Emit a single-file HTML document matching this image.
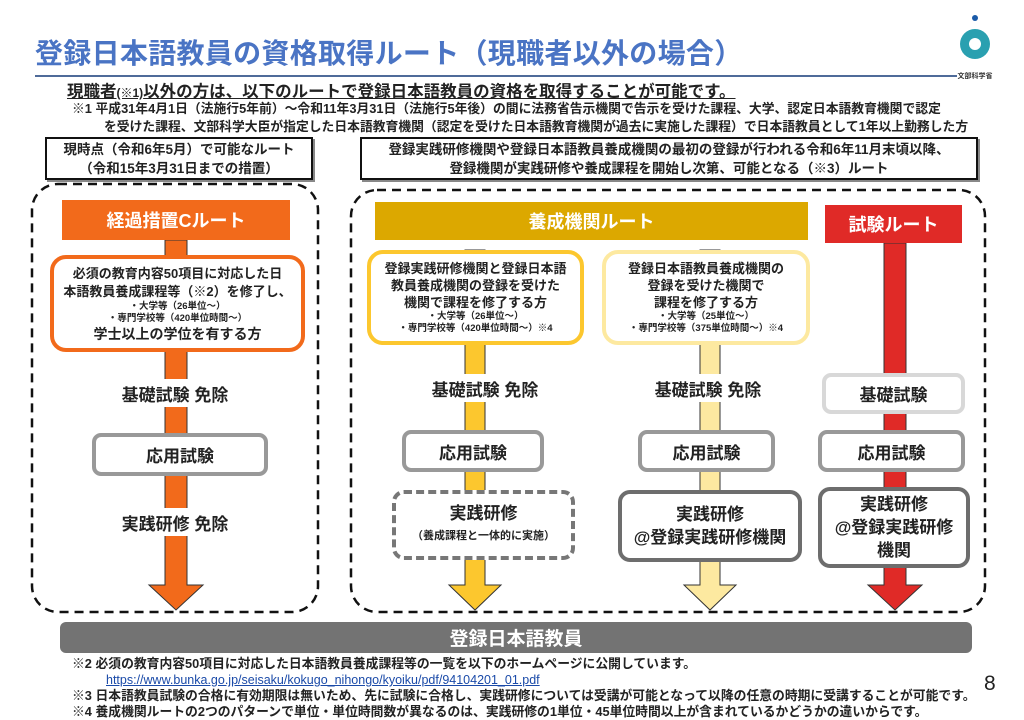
<!DOCTYPE html>
<html><head><meta charset="utf-8"><style>
body{margin:0;width:1024px;height:719px;background:#fff;position:relative;overflow:hidden;font-family:"Liberation Sans","Noto Sans CJK JP",sans-serif;font-weight:bold;color:#222}
.a{position:absolute}
.c{display:flex;align-items:center;justify-content:center;text-align:center;box-sizing:border-box;flex-direction:column}
.hd{color:#fff;font-size:17px}
.bx{background:#fff;border-radius:12px}
.sm{font-size:9.5px;line-height:12px}
</style></head><body>
<div class="a" style="left:35px;top:32px;font-size:28px;color:#4a74c4;letter-spacing:0.3px;white-space:nowrap">登録日本語教員の資格取得ルート（現職者以外の場合）</div>
<div class="a" style="left:35px;top:75px;width:922px;height:2px;background:#4f6b99"></div>
<svg class="a" style="left:955px;top:12px" width="40" height="70"><circle cx="20" cy="6" r="3" fill="#1a5aa8"/><circle cx="20" cy="32" r="15" fill="#2aa0b0"/><circle cx="20" cy="32" r="6" fill="#fff"/><text x="20" y="66" font-size="7" text-anchor="middle" fill="#333">文部科学省</text></svg>
<div class="a" style="left:67px;top:78px;font-size:16.5px;text-decoration:underline;white-space:nowrap">現職者<span style="font-size:12px">(※1)</span>以外の方は、以下のルートで登録日本語教員の資格を取得することが可能です。</div>
<div class="a" style="left:72px;top:100px;font-size:12.8px;line-height:18px;white-space:nowrap">※1 平成31年4月1日（法施行5年前）～令和11年3月31日（法施行5年後）の間に法務省告示機関で告示を受けた課程、大学、認定日本語教育機関で認定<br><span style="padding-left:32px">を受けた課程、文部科学大臣が指定した日本語教育機関（認定を受けた日本語教育機関が過去に実施した課程）で日本語教員として1年以上勤務した方</span></div>
<div class="a c" style="left:45px;top:137px;width:268px;height:43px;border:2px solid #111;box-shadow:2px 2px 0 #888;font-size:13.5px;line-height:19px">現時点（令和6年5月）で可能なルート<br>（令和15年3月31日までの措置）</div>
<div class="a c" style="left:360px;top:137px;width:618px;height:43px;border:2px solid #111;box-shadow:2px 2px 0 #888;font-size:13.5px;line-height:19px;white-space:nowrap">登録実践研修機関や登録日本語教員養成機関の最初の登録が行われる令和6年11月末頃以降、<br>登録機関が実践研修や養成課程を開始し次第、可能となる（※3）ルート</div>
<svg class="a" style="left:0;top:0" width="1024" height="719">
<g fill="none" stroke="#111" stroke-width="2.5" stroke-dasharray="9 6">
<rect x="32" y="184" width="286" height="428" rx="26"/>
<rect x="351" y="190" width="634" height="422" rx="26"/>
</g>
<g stroke="#333" stroke-width="1">
<path d="M165 240h22v345h16l-27 25-27-25h16z" fill="#f26a1b"/>
<path d="M465 250h20v335h16l-26 25-26-25h16z" fill="#fcc72e"/>
<path d="M700 250h20v335h16l-26 25-26-25h16z" fill="#fde9a0"/>
<path d="M884 243h22v342h16l-27 25-27-25h16z" fill="#e02a27"/>
</g>
</svg>
<div class="a c hd" style="left:62px;top:200px;width:228px;height:40px;background:#f26a1b;font-size:18px">経過措置Cルート</div>
<div class="a c hd" style="left:375px;top:202px;width:433px;height:38px;background:#dca800;font-size:18px">養成機関ルート</div>
<div class="a c hd" style="left:825px;top:205px;width:137px;height:38px;background:#e02a27;font-size:18px">試験ルート</div>
<div class="a c bx" style="left:50px;top:255px;width:255px;height:97px;border:4px solid #f26a1b;border-radius:16px;font-size:13px;line-height:18px;white-space:nowrap">必須の教育内容50項目に対応した日<br>本語教員養成課程等（※2）を修了し、<div class="sm">・大学等（26単位～）<br>・専門学校等（420単位時間～）</div><span style="font-size:14px">学士以上の学位を有する方</span></div>
<div class="a c bx" style="left:367px;top:250px;width:217px;height:95px;border:4px solid #fcc72e;border-radius:16px;font-size:13px;line-height:17px;white-space:nowrap">登録実践研修機関と登録日本語<br>教員養成機関の登録を受けた<br>機関で課程を修了する方<div class="sm">・大学等（26単位～）<br>・専門学校等（420単位時間～）※4</div></div>
<div class="a c bx" style="left:602px;top:250px;width:208px;height:95px;border:4px solid #fde9a0;border-radius:16px;font-size:13px;line-height:17px;white-space:nowrap">登録日本語教員養成機関の<br>登録を受けた機関で<br>課程を修了する方<div class="sm">・大学等（25単位～）<br>・専門学校等（375単位時間～）※4</div></div>
<div class="a c" style="left:90px;top:379px;width:170px;height:28px;background:#fff;font-size:17px">基礎試験 免除</div>
<div class="a c" style="left:400px;top:374px;width:170px;height:28px;background:#fff;font-size:17px">基礎試験 免除</div>
<div class="a c" style="left:623px;top:374px;width:170px;height:28px;background:#fff;font-size:17px">基礎試験 免除</div>
<div class="a c" style="left:90px;top:508px;width:170px;height:28px;background:#fff;font-size:17px">実践研修 免除</div>
<div class="a c bx" style="left:92px;top:433px;width:176px;height:43px;border:4px solid #999;border-radius:9px;font-size:17px">応用試験</div>
<div class="a c bx" style="left:402px;top:430px;width:142px;height:42px;border:4px solid #999;border-radius:9px;font-size:17px">応用試験</div>
<div class="a c bx" style="left:638px;top:430px;width:137px;height:42px;border:4px solid #999;border-radius:9px;font-size:17px">応用試験</div>
<div class="a c bx" style="left:818px;top:430px;width:147px;height:42px;border:4px solid #999;border-radius:9px;font-size:17px">応用試験</div>
<div class="a c bx" style="left:822px;top:373px;width:143px;height:41px;border:4px solid #d8d8d8;border-radius:9px;font-size:17px">基礎試験</div>
<div class="a c bx" style="left:392px;top:490px;width:183px;height:70px;border:4px dashed #777;border-radius:12px;font-size:17px;line-height:22px">実践研修<span style="font-size:11px">（養成課程と一体的に実施）</span></div>
<div class="a c bx" style="left:618px;top:490px;width:184px;height:72px;border:4px solid #6d6d6d;border-radius:12px;font-size:17px;line-height:23px;white-space:nowrap">実践研修<br>@登録実践研修機関</div>
<div class="a c bx" style="left:818px;top:487px;width:152px;height:81px;border:4px solid #6d6d6d;border-radius:12px;font-size:17px;line-height:23px">実践研修<br>@登録実践研修<br>機関</div>
<div class="a c" style="left:60px;top:622px;width:912px;height:31px;background:#737373;border-radius:6px;color:#fff;font-size:19px">登録日本語教員</div>
<div class="a" style="left:72px;top:656px;font-size:12.8px;line-height:16px;white-space:nowrap">※2 必須の教育内容50項目に対応した日本語教員養成課程等の一覧を以下のホームページに公開しています。<br><span style="padding-left:34px;color:#1a4aa8;text-decoration:underline;font-weight:normal;font-size:12.5px">https://www.bunka.go.jp/seisaku/kokugo_nihongo/kyoiku/pdf/94104201_01.pdf</span><br>※3 日本語教員試験の合格に有効期限は無いため、先に試験に合格し、実践研修については受講が可能となって以降の任意の時期に受講することが可能です。<br>※4 養成機関ルートの2つのパターンで単位・単位時間数が異なるのは、実践研修の1単位・45単位時間以上が含まれているかどうかの違いからです。</div>
<div class="a" style="left:984px;top:672px;font-size:21px;font-weight:normal">8</div>
</body></html>
